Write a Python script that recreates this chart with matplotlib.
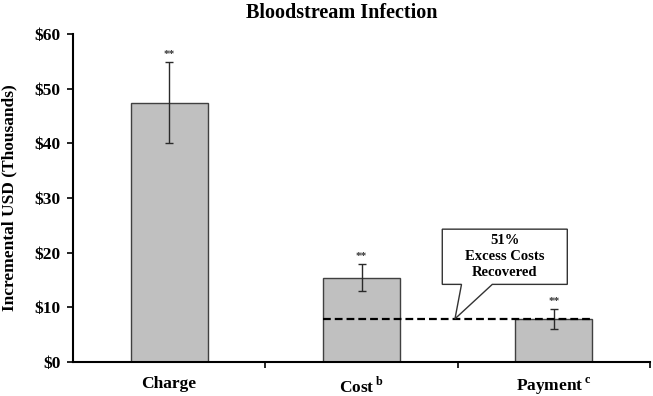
import matplotlib.pyplot as plt
import numpy as np
from matplotlib.patches import Polygon

plt.rcParams["font.family"] = ["Liberation Serif", "DejaVu Serif"]
plt.rcParams["font.weight"] = "bold"
plt.rcParams["mathtext.fontset"] = "custom"
plt.rcParams["mathtext.rm"] = "Liberation Serif"
plt.rcParams["mathtext.bf"] = "Liberation Serif:bold"

categories = ["Charge", "Cost$\\,^{\\rm b}$", "Payment$\\,^{\\rm c}$"]
values = [47.3, 15.3, 7.9]
err_low = [40.0, 13.0, 6.0]
err_high = [54.8, 17.9, 9.7]
y_ticks = [0, 10, 20, 30, 40, 50, 60]
y_labels = ["$0", "$10", "$20", "$30", "$40", "$50", "$60"]
recovered_level = 7.9
callout_text = "51%\nExcess Costs\nRecovered"

fig = plt.figure(figsize=(6.53, 3.96), dpi=100)
ax = fig.add_axes([73 / 653, 34 / 396, 577 / 653, 328 / 396])

x = np.arange(len(categories))
vals = np.array(values)
yerr = np.array([vals - np.array(err_low), np.array(err_high) - vals])

ax.bar(x, vals, width=0.4, color="#c0c0c0", edgecolor="#404040", linewidth=1.0, zorder=2)
ax.errorbar(x, vals, yerr=yerr, fmt="none", ecolor="#2a2a2a", elinewidth=1.0,
            capsize=3, capthick=1.0, zorder=3)
for xi, hi in zip(x, err_high):
    ax.text(xi, hi + 0.6, "**", ha="center", va="bottom", fontsize=8, color="#333333")

# dashed line across cost and payment
ax.plot([x[1] - 0.2, x[2] + 0.2], [recovered_level, recovered_level],
        color="black", linestyle=(0, (3.5, 1.8)), linewidth=1.6, zorder=4)

# callout box with pointer
bx0, bx1, by0, by1 = 1.42, 2.07, 14.2, 24.3
callout = Polygon([(bx0, by0), (1.52, by0), (1.486, recovered_level),
                   (1.68, by0), (bx1, by0), (bx1, by1), (bx0, by1)],
                  closed=True, facecolor="white", edgecolor="#333333", linewidth=1.0, zorder=5)
ax.add_patch(callout)
ax.text((bx0 + bx1) / 2, (by0 + by1) / 2, callout_text, ha="center", va="center",
        fontsize=10.5, fontweight="bold", linespacing=1.3, zorder=6)

ax.set_xlim(-0.5, 2.5)
ax.set_ylim(0, 60)
ax.set_yticks(y_ticks)
ax.set_yticklabels(y_labels, fontsize=12.5, fontweight="bold")
ax.set_xticks(x)
ax.set_xticklabels(categories, fontsize=12.5, fontweight="bold")
ax.tick_params(axis="x", length=0, pad=10)
ax.set_xticks([0.5, 1.5, 2.5], minor=True)
ax.tick_params(axis="x", which="minor", length=4, width=1.2, direction="out")
ax.tick_params(axis="y", length=4, width=1.2, direction="out", pad=5)

for side in ["top", "right"]:
    ax.spines[side].set_visible(False)
for side in ["left", "bottom"]:
    ax.spines[side].set_linewidth(1.5)

ax.set_ylabel("Incremental USD (Thousands)", fontsize=12.5, fontweight="bold", labelpad=12)
fig.text(342 / 653, 1 - 13 / 396, "Bloodstream Infection", ha="center", va="center",
         fontsize=14.5, fontweight="bold")

fig.savefig("out.png", dpi=100)
